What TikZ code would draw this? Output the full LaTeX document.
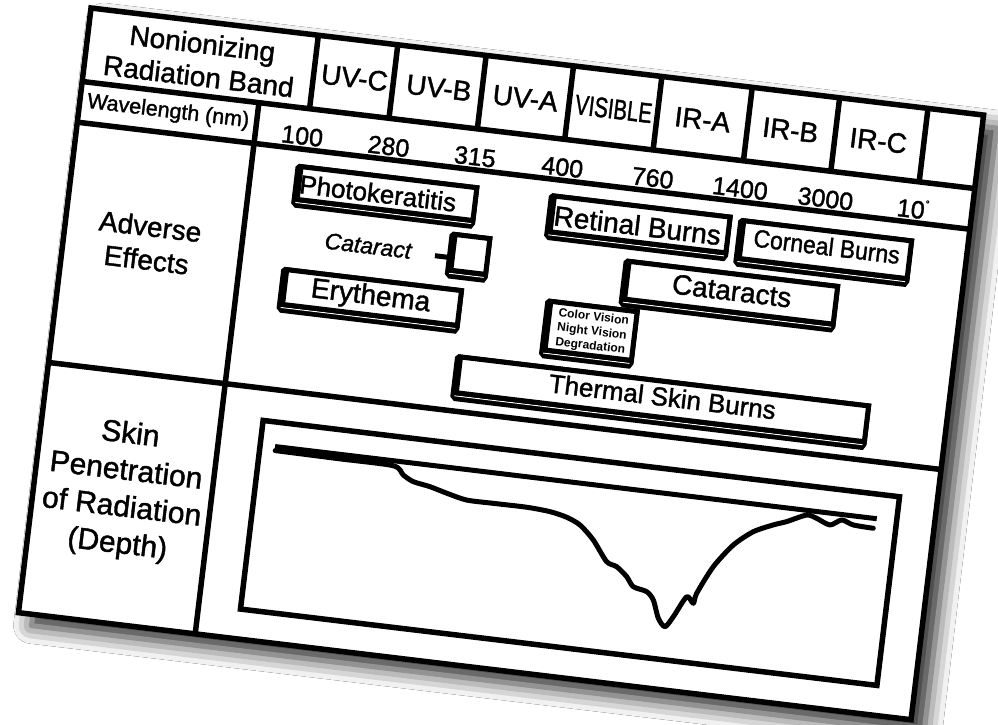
\documentclass[tikz,border=0pt]{standalone}
\usepackage{fontspec}
\setmainfont{Liberation Sans}
\newfontfamily\heavy{Liberation Sans}[FakeBold=1.4]
\usepackage{graphicx}
\usetikzlibrary{shadows.blur}

\newcommand\sz[2]{\fontsize{#1}{#2}\selectfont}

% Bevelled effect box: outer extent u0 v0 u1 v1 (bevel included)
\newcommand\bevelbox[4]{%
  \fill[black] (#1,#2+3) -- (#1+3,#2) -- (#3,#2) -- (#3,#4-5) -- (#3-3,#4)
     -- (#1+4,#4) -- (#1,#4-4) -- cycle;
  \draw[white, line width=1pt] (#1+4,#4-5.3) -- (#3-4,#4-5.3);
  \filldraw[fill=white, draw=black, line width=5pt]
     (#1+5.5,#2+2.5) rectangle (#3-2.5,#4-8.5);
}

\tikzset{
  rule/.style={line width=5.5pt},
  lab/.style={inner sep=0pt, outer sep=0pt, transform shape, align=center},
  band/.style={lab, font=\heavy\sz{28}{33}},
  num/.style={lab, anchor=base, font=\heavy\sz{25}{30}},
  effect/.style={lab, anchor=base, font=\heavy\sz{28}{33}},
}

\begin{document}
\begin{tikzpicture}[x=1pt, y=-1pt]
\fill[white] (0,0) rectangle (998,725);
\useasboundingbox (0,0) rectangle (998,725);

\begin{scope}[shift={(91,8)}, rotate=-6.84]
  % sheet with its drop shadow
  \fill[white, blur shadow={shadow xshift=13pt, shadow yshift=-13pt,
        shadow blur radius=18pt, shadow opacity=85}] (0,0) rectangle (899,609);

  % table rules
  \draw[rule, line join=miter] (0,0) rectangle (899,609);
  \draw[rule] (0,74) -- (899,74);
  \draw[rule] (0,115) -- (899,115);
  \draw[rule] (0,357) -- (899,357);
  \draw[rule] (178,74) -- (178,609);
  \foreach \u in {229,309,398,486,575,666,754,843}
    \draw[rule] (\u,0) -- (\u,74);

  % header row
  \node[band] (bandhead) at (115,38.3) {Nonionizing\\Radiation Band};
  \node[band] (uvc) at (270,38) {UV-C};
  \node[band] (uvb) at (355,38) {UV-B};
  \node[band] (uva) at (442,38) {UV-A};
  \node[band] (vis) at (531,38) {\scalebox{0.73}[1]{VISIBLE}};
  \node[band] (ira) at (620.5,38) {IR-A};
  \node[band] (irb) at (709,38) {IR-B};
  \node[band] (irc) at (797.5,38) {IR-C};

  % wavelength row
  \node[lab, font=\heavy\sz{21.5}{26}] (wl) at (89,94) {Wavelength (nm)};
  \node[num] (n100) at (225,110.5) {100};
  \node[num] (n280) at (312,110.5) {280};
  \node[num] (n315) at (399,110.5) {315};
  \node[num] (n400) at (487,110.5) {400};
  \node[num] (n760) at (578,110.5) {760};
  \node[num] (n1400) at (666,110.5) {1400};
  \node[num] (n3000) at (752,110.5) {3000};
  \node[num] (n10) at (840,110.5) {10\raisebox{12pt}{\sz{10}{10}°}};

  % row labels
  \node[lab, font=\heavy\sz{28}{33.6}] (adverse) at (85,226.5) {Adverse\\Effects};
  \node[lab, font=\heavy\sz{30}{36.8}] (skin) at (90,475) {Skin\\Penetration\\of Radiation\\(Depth)};

  % adverse effect boxes
  \bevelbox{222}{130}{407}{174}
  \node[effect, font=\heavy\sz{26}{30}] (photo) at (307,159) {Photokeratitis};

  \bevelbox{383}{179}{426}{226}
  \draw[line width=5pt] (371,205) -- (386,205);
  \node[effect, font=\heavy\sz{23}{27}\itshape] (cataract) at (303.5,211) {Cataract};

  \bevelbox{220}{234}{404}{280}
  \node[effect] (erythema) at (312,261) {Erythema};

  \bevelbox{477}{129}{662}{176}
  \node[effect] (retinal) at (568.5,160.7) {Retinal Burns};

  \bevelbox{668}{131}{845}{180}
  \node[effect, font=\heavy\sz{25}{30}] (corneal) at (759,158) {\scalebox{0.92}[1]{Corneal Burns}};

  \bevelbox{559}{185}{777}{234}
  \node[effect] (cataracts) at (670,214.2) {Cataracts};

  \bevelbox{486}{234}{581}{294}
  \node[lab, font=\sz{12}{14.5}\bfseries] (vision) at (536,262) {Color Vision\\Night Vision\\Degradation};

  \bevelbox{403}{300}{822}{347}
  \node[effect, font=\heavy\sz{26}{30}] (thermal) at (613.7,327) {Thermal Skin Burns};

  % penetration depth plot
  \draw[rule] (220,389) rectangle (861,579);
  \draw[line width=5pt] (235,413.5) -- (841,413.5);
  \draw[line width=5pt, line join=round, line cap=round]
    plot[smooth, tension=0.45] coordinates {
      (235.6,417.5) (300,418) (354.7,418.5) (365.7,426.5) (376.4,431.9)
      (393.6,434.9) (411,439.4) (431.6,443.8) (458.4,443.9) (492.1,443.8)
      (515.7,445.4) (533,449) (547.1,455.1) (562.1,468.4) (577.9,488.3)
      (588.5,492.1) (599.6,500.8) (607.3,510) (621.2,513.3) (628.8,520.8)
      (636,538.4) (643.6,545.9) (650.7,535) (661.6,513.6) (668.9,519.4)
      (671.1,509) (684.4,480.6) (701.7,456.7) (720,441.1) (739,432)
      (751.9,427.1) (771,418.2) (781.3,420.3) (795.3,425.3) (806.4,418.9)
      (818.5,422.5) (838.7,423.4)};
\end{scope}
\end{tikzpicture}
\end{document}
